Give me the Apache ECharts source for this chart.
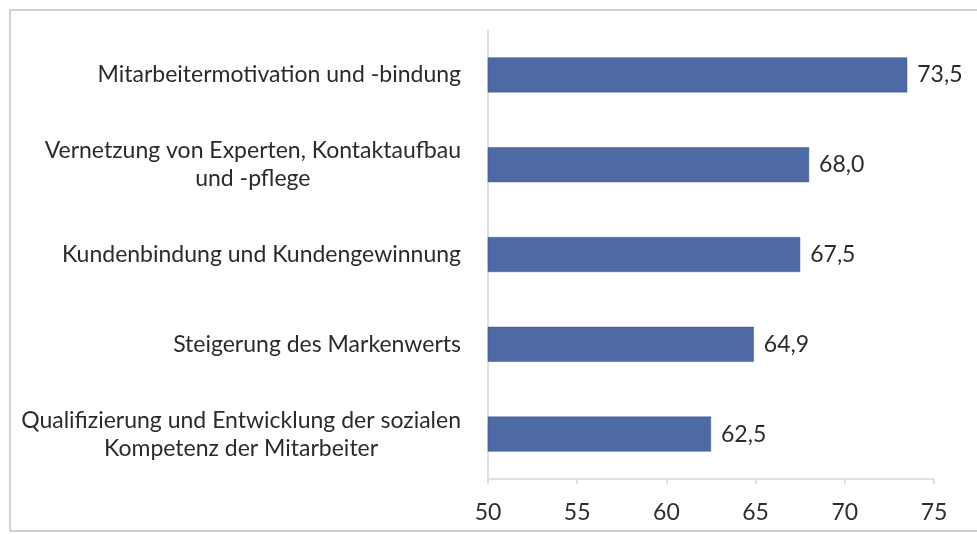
<!DOCTYPE html>
<html>
<head>
<meta charset="utf-8">
<script src="https://cdn.jsdelivr.net/npm/echarts@6/dist/echarts.min.js"></script>
<style>
html,body{margin:0;padding:0;background:#ffffff;}
#chart{width:977px;height:534px;}
</style>
</head>
<body>
<div id="chart"></div>
<script>
// Categories listed bottom to top (ECharts category axis starts at the bottom)
const categories = [
  "Qualifizierung und Entwicklung der sozialen\nKompetenz der Mitarbeiter",
  "Steigerung des Markenwerts",
  "Kundenbindung und Kundengewinnung",
  "Vernetzung von Experten, Kontaktaufbau\nund -pflege",
  "Mitarbeitermotivation und -bindung"
];
const values = [62.5, 64.9, 67.5, 68.0, 73.5];
const xTicks = [50, 55, 60, 65, 70, 75];

const FONT = "Lato, 'Open Sans', sans-serif";
const chart = echarts.init(document.getElementById('chart'));
chart.setOption({
  backgroundColor: '#ffffff',
  animation: false,
  graphic: [{
    type: 'rect',
    shape: {x: 10, y: 10, width: 1000, height: 521},
    style: {fill: 'none', stroke: '#c4c4c4', lineWidth: 1.5},
    silent: true
  }],
  grid: {left: 488, right: 43, top: 30, bottom: 55, containLabel: false},
  xAxis: {
    type: 'value',
    min: xTicks[0],
    max: xTicks[xTicks.length - 1],
    interval: 5,
    axisLine: {show: true, lineStyle: {color: '#d6d6d6', width: 1.5}},
    axisTick: {show: true, length: 5, lineStyle: {color: '#d6d6d6', width: 1.5}},
    splitLine: {show: false},
    axisLabel: {margin: 22, fontFamily: FONT, fontSize: 23, color: '#2e2e2e'}
  },
  yAxis: {
    type: 'category',
    data: categories,
    axisLine: {show: true, lineStyle: {color: '#d6d6d6', width: 1.5}},
    axisTick: {show: false},
    axisLabel: {
      margin: 27,
      formatter: function (v) {
        return v.split('\n').map(function (l) { return '{c|' + l + '}'; }).join('\n');
      },
      rich: {
        c: {align: 'center', fontFamily: FONT, fontSize: 23, color: '#2b2b2b', lineHeight: 28}
      }
    }
  },
  series: [{
    type: 'bar',
    data: values,
    barWidth: 35,
    itemStyle: {color: '#4e6aa5', borderColor: '#3f5a91', borderWidth: 0.5},
    label: {
      show: true,
      position: 'right',
      distance: 10,
      fontFamily: FONT,
      fontSize: 23,
      color: '#2b2b2b',
      formatter: function (p) { return p.value.toFixed(1).replace('.', ','); }
    }
  }]
});
</script>
</body>
</html>
